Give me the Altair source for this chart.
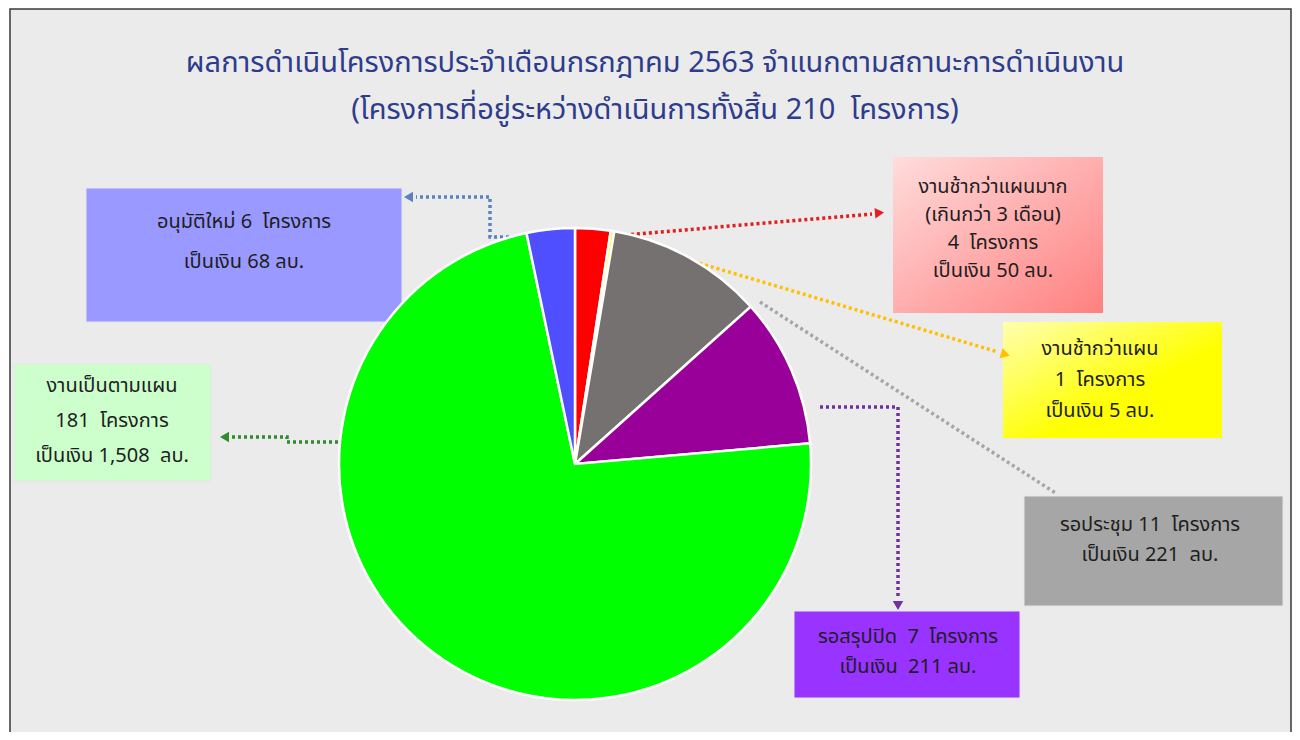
import altair as alt
import pandas as pd

# ---------------- data ----------------
status = ["งานช้ากว่าแผนมาก", "งานช้ากว่าแผน", "รอประชุม", "รอสรุปปิด", "งานเป็นตามแผน", "อนุมัติใหม่"]
projects = [4, 1, 11, 7, 181, 6]
money = [50, 5, 221, 211, 1508, 68]          # ลบ. (million baht) - slice size
slice_colors = ["#ff0000", "#ffff00", "#767171", "#990099", "#00ff00", "#4f4fff"]

SP = "\u00a0"
title_lines = ["ผลการดำเนินโครงการประจำเดือนกรกฎาคม 2563 จำแนกตามสถานะการดำเนินงาน",
               f"(โครงการที่อยู่ระหว่างดำเนินการทั้งสิ้น 210{SP}{SP}โครงการ)"]

box_lines = [
    ["งานช้ากว่าแผนมาก", "(เกินกว่า 3 เดือน)", f"4{SP}{SP}โครงการ", "เป็นเงิน 50 ลบ."],
    ["งานช้ากว่าแผน", f"1{SP}{SP}โครงการ", "เป็นเงิน 5 ลบ."],
    [f"รอประชุม 11{SP}{SP}โครงการ", f"เป็นเงิน 221{SP}{SP}ลบ."],
    [f"รอสรุปปิด{SP}{SP}7{SP}{SP}โครงการ", f"เป็นเงิน{SP}{SP}211 ลบ."],
    ["งานเป็นตามแผน", f"181{SP}{SP}โครงการ", f"เป็นเงิน 1,508{SP}{SP}ลบ."],
    [f"อนุมัติใหม่ 6{SP}{SP}โครงการ", "เป็นเงิน 68 ลบ."],
]

# ---------------- layout (image pixel coordinates) ----------------
FONT = "Tahoma, Noto Sans Thai, Noto Sans, sans-serif"
W, H = 1284, 724
xs = alt.Scale(domain=[8, 8 + W], nice=False, zero=False)
ys = alt.Scale(domain=[8, 8 + H], nice=False, zero=False, reverse=True)
X = lambda f: alt.X(f"{f}:Q", scale=xs, axis=None)
Y = lambda f: alt.Y(f"{f}:Q", scale=ys, axis=None)
X2 = lambda f: alt.X2(f"{f}:Q")
Y2 = lambda f: alt.Y2(f"{f}:Q")

pie_cx, pie_cy, pie_r = 575, 464, 236

# box rectangles: x, x2, y, y2 and text anchor (center x, first line y, line step)
box_geo = [
    dict(x=893, x2=1103, y=157, y2=313, tx=993, ty=187, step=28),
    dict(x=1003, x2=1222, y=322, y2=438, tx=1100, ty=349, step=31),
    dict(x=1024, x2=1283, y=496, y2=606, tx=1150, ty=525, step=30),
    dict(x=794, x2=1020, y=611, y2=698, tx=908, ty=637, step=30),
    dict(x=14, x2=211, y=364, y2=481, tx=112, ty=386, step=35),
    dict(x=86, x2=402, y=188, y2=322, tx=244, ty=222, step=40),
]
box_fills = ["#ffb3b3", "#ffff66", "#a6a6a6", "#9933ff", "#ccffcc", "#9999ff"]

arrow_colors = ["#e02020", "#ffc000", "#a6a6a6", "#7030a0", "#2e8b2e", "#5b82c0"]
arrow_paths = [
    [(613, 236), (872, 214)],
    [(682, 258), (998, 352)],
    [(760, 302), (1057, 494)],
    [(820, 407), (898, 407), (898, 598)],
    [(350, 442), (287, 442), (287, 437), (232, 437)],
    [(575, 237), (490, 237), (490, 197), (416, 197)],
]
arrow_heads = [  # x, y, angle, whether drawn
    (878, 213, 85, True),
    (1004, 354, 107, True),
    (0, 0, 0, False),
    (898, 604, 180, True),
    (226, 437, 270, True),
    (410, 197, 270, True),
]

# ---------------- tables ----------------
pie_df = pd.DataFrame({"status": status, "projects": projects, "money": money,
                       "color": slice_colors, "idx": list(range(len(status)))})

frame_df = pd.DataFrame([dict(x=10, x2=1291, y=9, y2=760)])

box_rows = []
text_rows = []
for i, g in enumerate(box_geo):
    box_rows.append(dict(x=g["x"], x2=g["x2"], y=g["y"], y2=g["y2"], fill=box_fills[i], i=i))
    for k, line in enumerate(box_lines[i]):
        text_rows.append(dict(x=g["tx"], y=g["ty"] + k * g["step"], text=line))
box_df = pd.DataFrame(box_rows)
text_df = pd.DataFrame(text_rows)

line_rows = []
for i, path in enumerate(arrow_paths):
    for k, (px, py) in enumerate(path):
        line_rows.append(dict(x=px, y=py, g=i, k=k, color=arrow_colors[i]))
line_df = pd.DataFrame(line_rows)

head_df = pd.DataFrame([dict(x=h[0], y=h[1], angle=h[2], color=arrow_colors[i])
                        for i, h in enumerate(arrow_heads) if h[3]])

title_df = pd.DataFrame({"x": [655, 655], "y": [63, 110], "text": title_lines})

# ---------------- layers ----------------
frame = alt.Chart(frame_df).mark_rect(fill="#ebebeb", stroke="#3a3a3a", strokeWidth=1.5).encode(
    x=X("x"), x2=X2("x2"), y=Y("y"), y2=Y2("y2"))

plain_boxes = alt.Chart(box_df).transform_filter("datum.i >= 2").mark_rect(
    stroke="#e6e6e6", strokeWidth=1).encode(
    x=X("x"), x2=X2("x2"), y=Y("y"), y2=Y2("y2"),
    fill=alt.Fill("fill:N", scale=None))

red_box = alt.Chart(box_df).transform_filter("datum.i == 0").mark_rect(
    fill=alt.Gradient(gradient="linear", x1=0, y1=0, x2=1, y2=1,
                      stops=[alt.GradientStop(color="#ffdcdc", offset=0),
                             alt.GradientStop(color="#ff8080", offset=1)])).encode(
    x=X("x"), x2=X2("x2"), y=Y("y"), y2=Y2("y2"))

yellow_box = alt.Chart(box_df).transform_filter("datum.i == 1").mark_rect(
    fill=alt.Gradient(gradient="linear", x1=0, y1=0, x2=1, y2=1,
                      stops=[alt.GradientStop(color="#ffffb0", offset=0),
                             alt.GradientStop(color="#ffff00", offset=0.6),
                             alt.GradientStop(color="#ffff00", offset=1)])).encode(
    x=X("x"), x2=X2("x2"), y=Y("y"), y2=Y2("y2"))

box_text = alt.Chart(text_df).mark_text(font=FONT, fontSize=20, color="#1e1e1e",
                                         align="center", baseline="middle").encode(
    x=X("x"), y=Y("y"), text="text:N")

pie = alt.Chart(pie_df).mark_arc(radius=pie_r, stroke="white", strokeWidth=2.5).encode(
    theta=alt.Theta("money:Q", stack=True),
    order=alt.Order("idx:Q"),
    fill=alt.Fill("color:N", scale=None),
    x=alt.value(pie_cx - 8), y=alt.value(pie_cy - 8),
    tooltip=["status:N", "projects:Q", "money:Q"])

lines = alt.Chart(line_df).mark_line(strokeDash=[3, 3], strokeWidth=3.5).encode(
    x=X("x"), y=Y("y"), detail="g:N", order="k:Q",
    color=alt.Color("color:N", scale=None))

heads = alt.Chart(head_df).mark_point(shape="triangle", filled=True, size=110, opacity=1).encode(
    x=X("x"), y=Y("y"), angle=alt.Angle("angle:Q", scale=None),
    color=alt.Color("color:N", scale=None))

title = alt.Chart(title_df).mark_text(font=FONT, fontSize=29, color="#2e3c8c",
                                       align="center", baseline="middle").encode(
    x=X("x"), y=Y("y"), text="text:N")

chart = alt.layer(frame, plain_boxes, red_box, yellow_box, lines, pie, heads, box_text, title).properties(
    width=W, height=H, autosize=alt.AutoSizeParams(type="none"), padding=0,
    background="#ffffff"
).configure_view(stroke=None)

chart.save("out.html", embed_options={"renderer": "svg", "actions": False})
